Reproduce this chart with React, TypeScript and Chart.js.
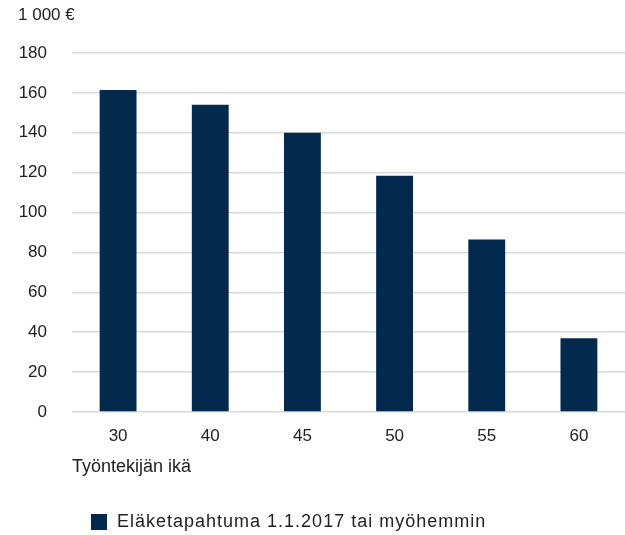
import React, { useEffect, useRef } from "react";
import { Chart, registerables } from "chart.js";

Chart.register(...registerables);

const categories = ["30", "40", "45", "50", "55", "60"];
const seriesLabel = "Eläketapahtuma 1.1.2017 tai myöhemmin";
const seriesValues = [161.5, 154, 140, 118.5, 86.5, 37];
const yUnitLabel = "1 000 €";
const xAxisTitle = "Työntekijän ikä";
const yMin = 0;
const yMax = 180;
const yStep = 20;

const FONT = "'Liberation Sans', Arial, Helvetica, sans-serif";
const BAR_COLOR = "#03294d";
const TEXT_COLOR = "#222222";

export default function App() {
  const ref = useRef<HTMLCanvasElement | null>(null);

  useEffect(() => {
    if (!ref.current) return;
    const extras = {
      id: "extras",
      afterDraw(chart: any) {
        const ctx = chart.ctx;
        ctx.save();
        ctx.font = `17px ${FONT}`;
        ctx.fillStyle = TEXT_COLOR;
        ctx.textBaseline = "middle";
        ctx.textAlign = "left";
        ctx.fillText(yUnitLabel, 18, 15);
        // legend
        const ds = chart.data.datasets[0];
        const ly = 522;
        ctx.fillStyle = ds.backgroundColor;
        ctx.fillRect(91, ly - 8, 16, 16);
        ctx.fillStyle = TEXT_COLOR;
        ctx.font = `18px ${FONT}`;
        try {
          (ctx as any).letterSpacing = "1px";
        } catch (e) {}
        ctx.fillText(ds.label, 117, ly);
        ctx.restore();
      },
    };
    const chart = new Chart(ref.current, {
      type: "bar",
      data: {
        labels: categories,
        datasets: [
          {
            label: seriesLabel,
            data: seriesValues,
            backgroundColor: BAR_COLOR,
            barPercentage: 0.8,
            categoryPercentage: 0.5,
          },
        ],
      },
      options: {
        responsive: false,
        animation: false,
        layout: { padding: { top: 53, left: 17, right: 0, bottom: 57 } },
        plugins: {
          legend: { display: false },
          tooltip: { enabled: false },
          title: { display: false },
        },
        scales: {
          x: {
            grid: { display: false, drawTicks: false },
            border: { display: false },
            ticks: { font: { family: FONT, size: 17 }, color: TEXT_COLOR, padding: 14.5 },
            title: {
              display: true,
              text: xAxisTitle,
              align: "start",
              font: { family: FONT, size: 18 },
              color: TEXT_COLOR,
              padding: { top: 0, bottom: 0 },
            },
            afterFit(scale: any) {
              scale.height = 66;
            },
          },
          y: {
            min: yMin,
            max: yMax,
            grid: { color: "#d9d9d9", lineWidth: 1.5, drawTicks: false },
            border: { display: false },
            ticks: {
              stepSize: yStep,
              font: { family: FONT, size: 17 },
              color: TEXT_COLOR,
              padding: 25,
            },
            afterFit(scale: any) {
              scale.width = 55;
            },
          },
        },
      },
      plugins: [extras],
    });
    return () => chart.destroy();
  }, []);

  return (
    <div style={{ position: "absolute", left: 0, top: 0, width: 625, height: 535 }}>
      <canvas ref={ref} width={625} height={535} />
    </div>
  );
}
